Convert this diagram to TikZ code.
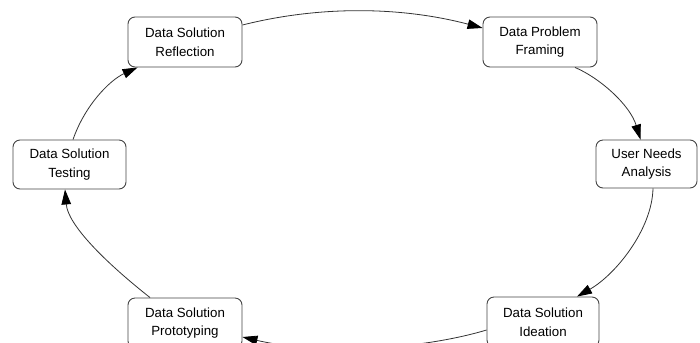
\documentclass[tikz,border=0pt]{standalone}
\usepackage{fontspec}
\setmainfont{Liberation Sans}
\usetikzlibrary{calc,arrows.meta}
\definecolor{boxline}{HTML}{444444}
\definecolor{edgeline}{HTML}{333333}
\tikzset{
  stagebox/.style={draw=boxline, line width=0.9bp, rounded corners=7bp,
    fill=white, align=center, inner sep=0pt,
    font=\fontsize{13.3bp}{18.5bp}\selectfont},
  flow/.style={draw=edgeline, line width=0.8bp,
    -{Triangle[length=15bp,width=9.5bp,color=black]}}
}
\begin{document}
\begin{tikzpicture}[x=1bp,y=-1bp]
\useasboundingbox (0,0) rectangle (700,342);
\node[stagebox, minimum width=114bp, minimum height=50bp] (refl) at (185,42) {Data Solution\\Reflection};
\node[stagebox, minimum width=114bp, minimum height=50bp] (frame) at (540,42) {Data Problem\\Framing};
\node[stagebox, minimum width=101bp, minimum height=48bp] (needs) at (646.5,164) {User Needs\\Analysis};
\node[stagebox, minimum width=113bp, minimum height=49bp] (test) at (69.5,164.5) {Data Solution\\Testing};
\node[stagebox, minimum width=114bp, minimum height=50bp] (proto) at (185,323) {Data Solution\\Prototyping};
\node[stagebox, minimum width=112bp, minimum height=50bp] (idea) at (543,322) {Data Solution\\Ideation};

\draw[flow] ($(refl.east)+(0,-17)$) .. controls (322,5) and (403,7) .. ($(frame.west)+(0,-14)$);
\draw[flow] ($(frame.south)+(35,0)$) .. controls (600,78) and (630,105) .. ($(needs.north)+(-6,0)$);
\draw[flow] ($(needs.south)+(6.5,0)$) .. controls (652,230) and (615,275) .. ($(idea.north)+(34,0)$);
\draw[flow] ($(idea.west)+(0,8)$) .. controls (420,350) and (320,355) .. ($(proto.east)+(0,14)$);
\draw[flow] ($(proto.north)+(-35,0)$) .. controls (105,262) and (68,225) .. ($(test.south)+(-4.5,0)$);
\draw[flow] ($(test.north)+(3.5,0)$) .. controls (85,105) and (110,80) .. ($(refl.south west)+(10,0)$);
\end{tikzpicture}
\end{document}
